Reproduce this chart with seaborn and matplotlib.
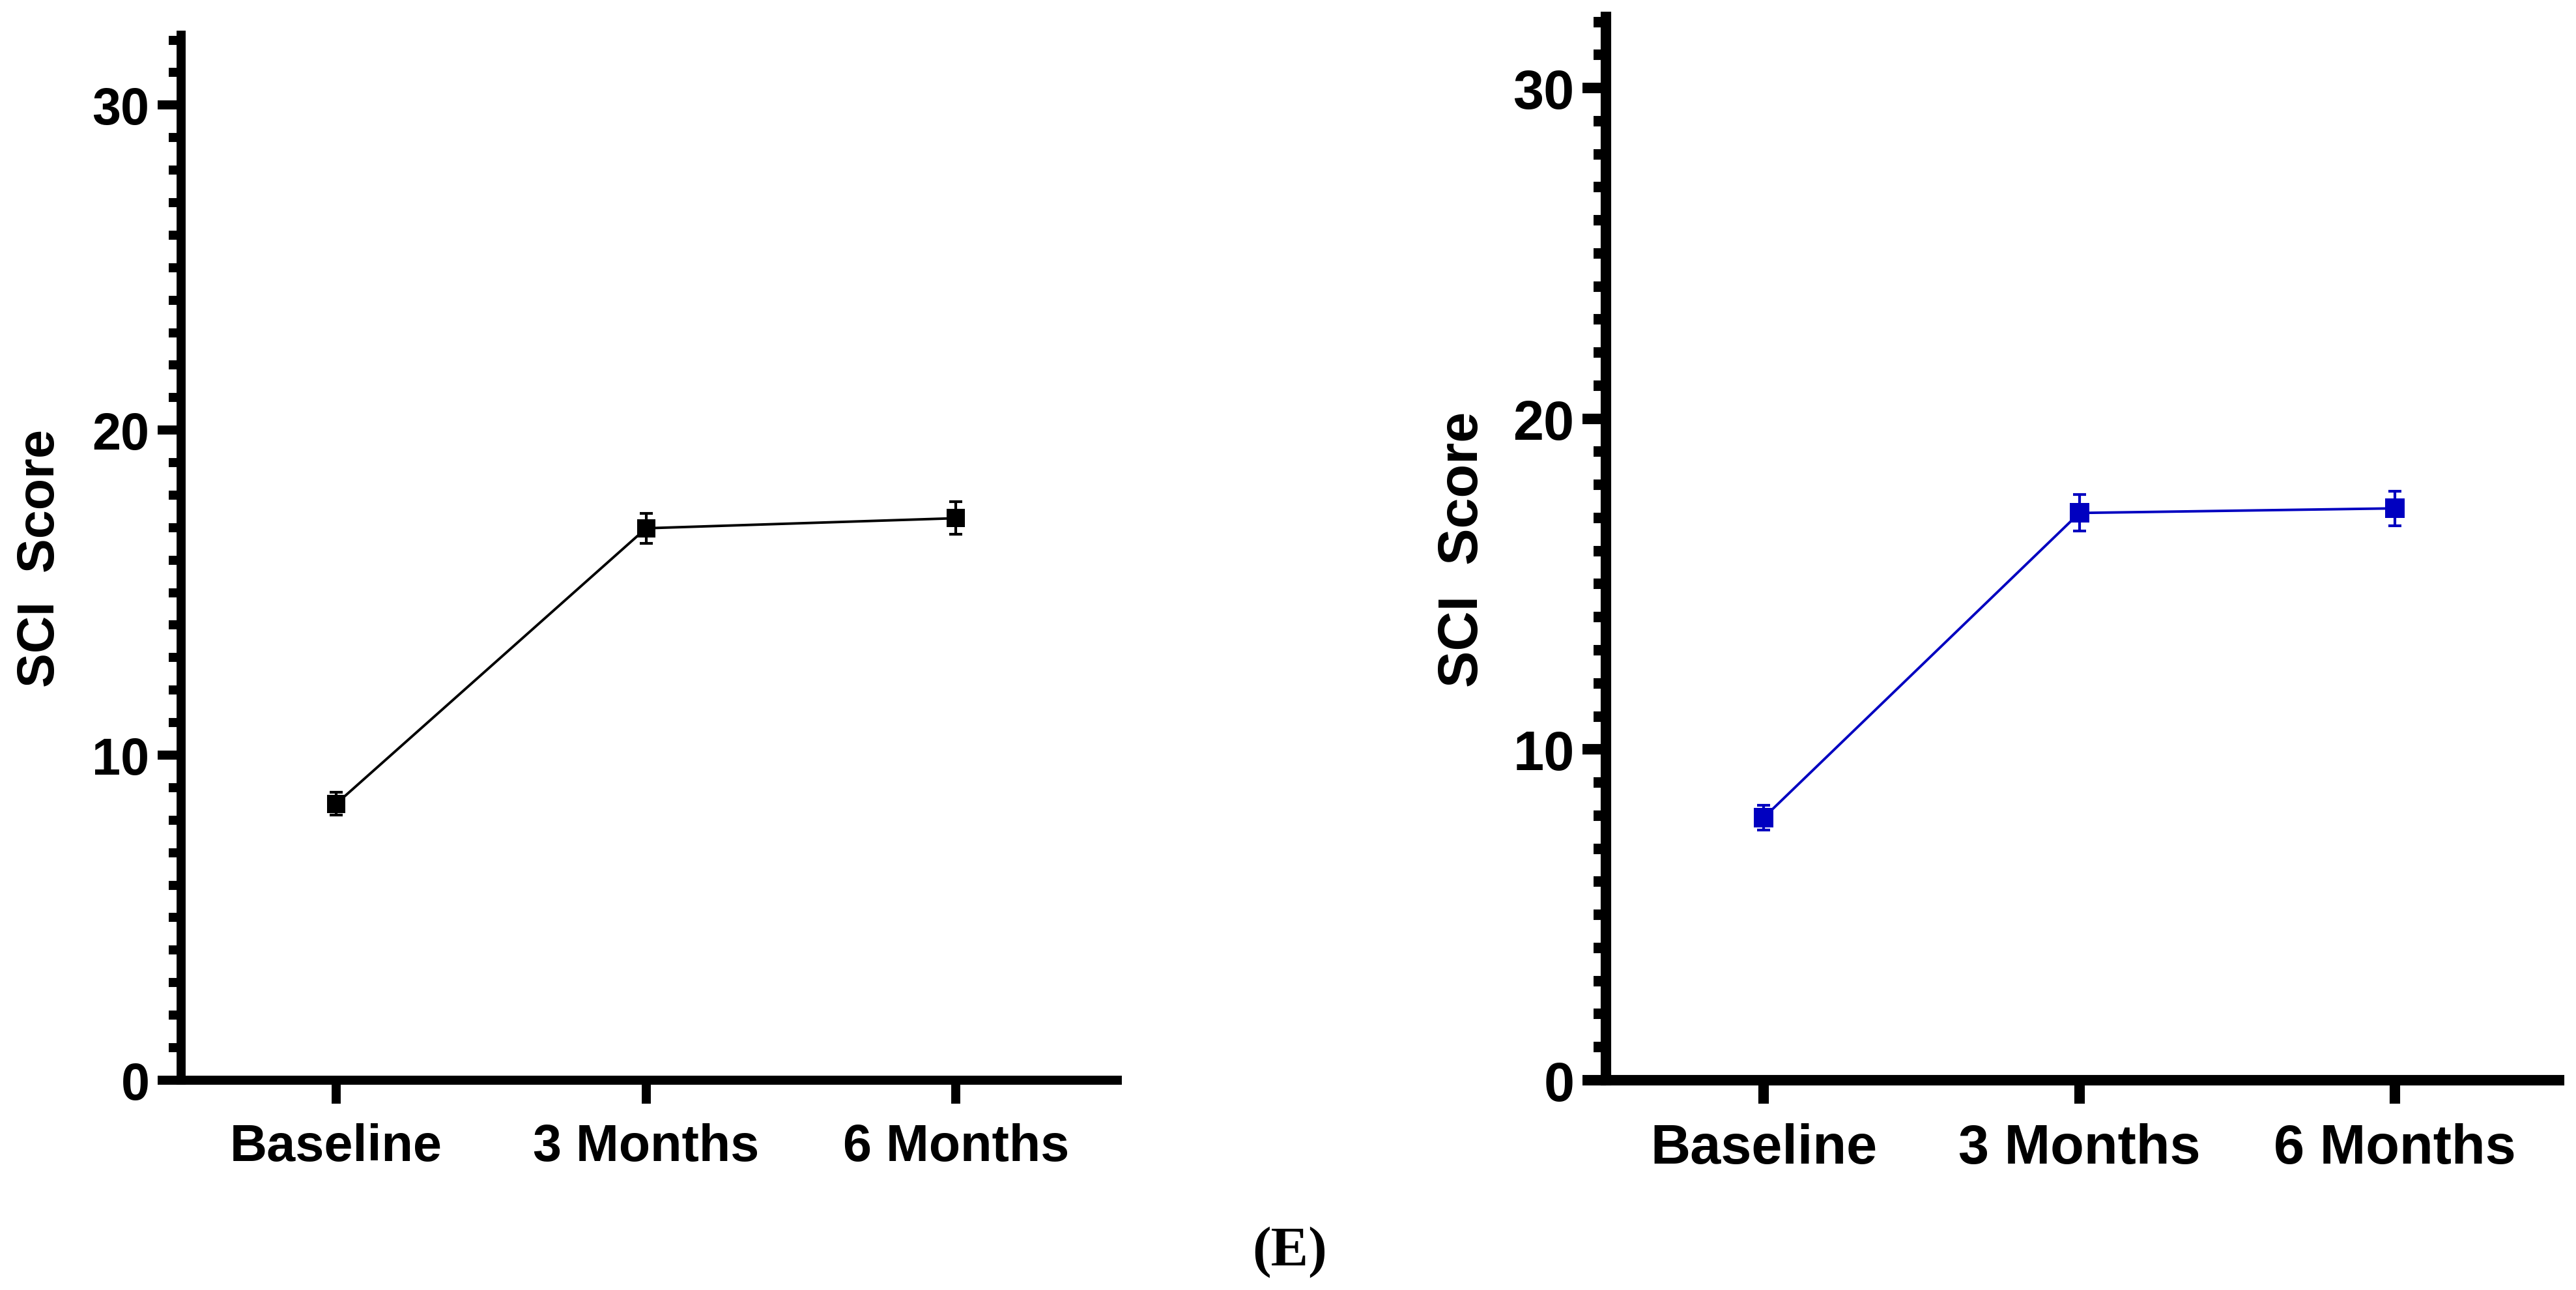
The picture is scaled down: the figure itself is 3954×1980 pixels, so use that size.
import matplotlib
matplotlib.use("Agg")
import matplotlib.pyplot as plt
from matplotlib.ticker import MultipleLocator
import pandas as pd
import seaborn as sns

# values (mean and error half-width)
timepoints = ["Baseline", "3 Months", "6 Months"]
left_mean = [8.5, 16.98, 17.29]
left_err = [0.35, 0.46, 0.50]
right_mean = [7.94, 17.15, 17.29]
right_err = [0.37, 0.55, 0.52]

sns.set_style("ticks")
plt.rcParams["font.family"] = ["Liberation Sans", "DejaVu Sans"]
plt.rcParams["font.weight"] = "bold"
plt.rcParams["text.color"] = "black"
plt.rcParams["axes.labelcolor"] = "black"
plt.rcParams["xtick.color"] = "black"
plt.rcParams["ytick.color"] = "black"


def draw_panel(ax, mean, err, color, fs, spine_w, msize, lpad):
    '''
    line with square markers and error bars, Prism-like axes
    '''
    df = pd.DataFrame({"time": timepoints, "score": mean})
    ax.errorbar(df["time"], df["score"], yerr=err, fmt="none", ecolor=color,
                elinewidth=1.5, capsize=3.6, capthick=1.5, zorder=2)
    sns.lineplot(data=df, x="time", y="score", ax=ax, color=color, sort=False,
                 marker="s", markersize=msize, markeredgewidth=0,
                 linewidth=1.4, zorder=3)

    ax.set_xlim(-0.5, 2.52)
    ax.set_ylim(0, 32.15)
    ax.yaxis.set_major_locator(MultipleLocator(10))
    ax.yaxis.set_minor_locator(MultipleLocator(1))

    sns.despine(ax=ax)
    for side in ["left", "bottom"]:
        ax.spines[side].set_linewidth(spine_w)
        ax.spines[side].set_color("black")

    ax.tick_params(axis="y", which="major", length=13, width=spine_w,
                   direction="out", labelsize=fs, pad=4.5,
                   color="black", labelcolor="black")
    ax.tick_params(axis="y", which="minor", length=7, width=spine_w,
                   direction="out", color="black")
    ax.tick_params(axis="x", which="major", length=13, width=spine_w,
                   direction="out", labelsize=fs, pad=10.5,
                   color="black", labelcolor="black")
    ax.tick_params(axis="x", which="minor", length=0)

    ax.set_xlabel("")
    ax.set_ylabel("SCI  Score", fontsize=fs, fontweight="bold",
                  labelpad=lpad, color="black")
    for lab in ax.get_xticklabels() + ax.get_yticklabels():
        lab.set_fontweight("bold")


fig = plt.figure(figsize=(19.775, 9.905), dpi=200)
ax1 = fig.add_axes([0.0703, 0.1626, 0.3633, 0.8096])
ax2 = fig.add_axes([0.6233, 0.1626, 0.3699, 0.8238])

draw_panel(ax1, left_mean, left_err, "black", 28.5, 5.0, 10.4, 15)
draw_panel(ax2, right_mean, right_err, "#0000C0", 30.5, 5.8, 11, 13)

fig.text(0.5006, 0.030, "(E)", family=["Liberation Serif", "DejaVu Serif"],
         fontweight="bold", fontsize=31, ha="center", va="center",
         color="black")

fig.savefig("out.png", dpi=200, facecolor="white")
